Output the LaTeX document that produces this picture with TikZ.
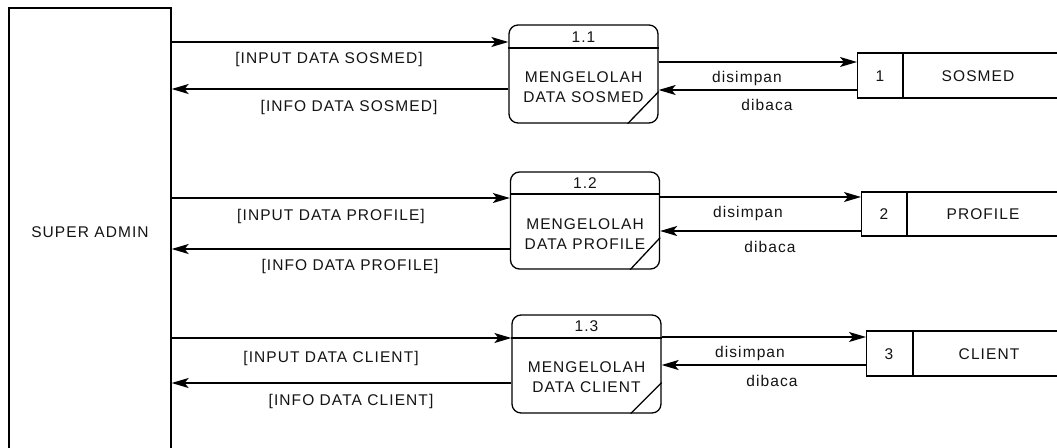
\documentclass[tikz,border=0pt]{standalone}
\usepackage{fontspec}
\setmainfont{Liberation Sans}[LetterSpace=7]
\usetikzlibrary{arrows.meta}
\begin{document}
\begin{tikzpicture}[x=1pt,y=-1pt, line width=1.3pt,
  txt/.style={font=\fontsize{15.5}{18}\selectfont, inner sep=0pt, text height=11pt, text depth=0pt, text=black!92},
  flow/.style={-{Stealth[length=17pt,width=10pt,inset=4pt]}},
  proc/.style={draw, rounded corners=9pt, minimum width=149pt, inner sep=0pt},
  store/.style={draw, inner sep=0pt, anchor=west, minimum width=210pt}]

\useasboundingbox (0,0) rectangle (1057,447);
\fill[white] (0,0) rectangle (1057,447);

% external entity
\node[draw, minimum width=162pt, minimum height=448pt, inner sep=0pt] (admin) at (90,232) {};
\node[txt] (adminlbl) at (90,232) {SUPER ADMIN};

% processes
\node[proc, minimum height=98pt] (p1) at (583.5,74) {};
\node[proc, minimum height=97pt] (p2) at (585,220.5) {};
\node[proc, minimum height=98pt] (p3) at (586.5,364) {};

\draw (p1.west |- 0,48) -- (p1.east |- 0,48);
\draw (p2.west |- 0,194) -- (p2.east |- 0,194);
\draw (p3.west |- 0,338) -- (p3.east |- 0,338);

\draw ([xshift=-31pt]p1.south east) -- ([yshift=32pt]p1.south east);
\draw ([xshift=-30pt]p2.south east) -- ([yshift=32pt]p2.south east);
\draw ([xshift=-31pt]p3.south east) -- ([yshift=31pt]p3.south east);

\node[txt] (p1num) at (583.5,36.5) {1.1};
\node[txt] (p1l1) at (583.5,77) {MENGELOLAH};
\node[txt] (p1l2) at (583.5,97) {DATA SOSMED};
\node[txt] (p2num) at (585,183) {1.2};
\node[txt] (p2l1) at (585,224) {MENGELOLAH};
\node[txt] (p2l2) at (585,244) {DATA PROFILE};
\node[txt] (p3num) at (586.5,326) {1.3};
\node[txt] (p3l1) at (586.5,367) {MENGELOLAH};
\node[txt] (p3l2) at (586.5,387) {DATA CLIENT};

% data stores
\node[store, minimum height=45pt] (s1) at (857,75.5) {};
\node[store, minimum height=44pt] (s2) at (861,214) {};
\node[store, minimum height=45pt] (s3) at (866,353.5) {};
\draw (s1.north -| 903,0) -- (s1.south -| 903,0);
\draw (s2.north -| 907,0) -- (s2.south -| 907,0);
\draw (s3.north -| 913,0) -- (s3.south -| 913,0);
\node[txt] (s1num) at (880,75.5) {1};
\node[txt] (s1name) at (978,75.5) {SOSMED};
\node[txt] (s2num) at (884,214) {2};
\node[txt] (s2name) at (983,214) {PROFILE};
\node[txt] (s3num) at (889,353.5) {3};
\node[txt] (s3name) at (989,353.5) {CLIENT};

% flows admin <-> processes
\draw[flow] (admin.east |- 0,42) -- (p1.west |- 0,42);
\draw[flow] (p1.west |- 0,89) -- (admin.east |- 0,89);
\draw[flow] (admin.east |- 0,198) -- (p2.west |- 0,198);
\draw[flow] (p2.west |- 0,249) -- (admin.east |- 0,249);
\draw[flow] (admin.east |- 0,338) -- (p3.west |- 0,338);
\draw[flow] (p3.west |- 0,383) -- (admin.east |- 0,383);

% flows processes <-> stores
\draw[flow] (p1.east |- 0,62) -- (s1.west |- 0,62);
\draw[flow] (s1.west |- 0,90) -- (p1.east |- 0,90);
\draw[flow] (p2.east |- 0,197) -- (s2.west |- 0,197);
\draw[flow] (s2.west |- 0,231) -- (p2.east |- 0,231);
\draw[flow] (p3.east |- 0,337) -- (s3.west |- 0,337);
\draw[flow] (s3.west |- 0,365) -- (p3.east |- 0,365);

% flow labels
\node[txt] (l1a) at (329,58) {[INPUT DATA SOSMED]};
\node[txt] (l1b) at (349,106) {[INFO DATA SOSMED]};
\node[txt] (l2a) at (331,215) {[INPUT DATA PROFILE]};
\node[txt] (l2b) at (350,265) {[INFO DATA PROFILE]};
\node[txt] (l3a) at (331,357) {[INPUT DATA CLIENT]};
\node[txt] (l3b) at (351,400) {[INFO DATA CLIENT]};

\node[txt] (d1a) at (747,77) {disimpan};
\node[txt] (d1b) at (767,105) {dibaca};
\node[txt] (d2a) at (748,212) {disimpan};
\node[txt] (d2b) at (770,247) {dibaca};
\node[txt] (d3a) at (750,352) {disimpan};
\node[txt] (d3b) at (772,381) {dibaca};
\end{tikzpicture}
\end{document}
